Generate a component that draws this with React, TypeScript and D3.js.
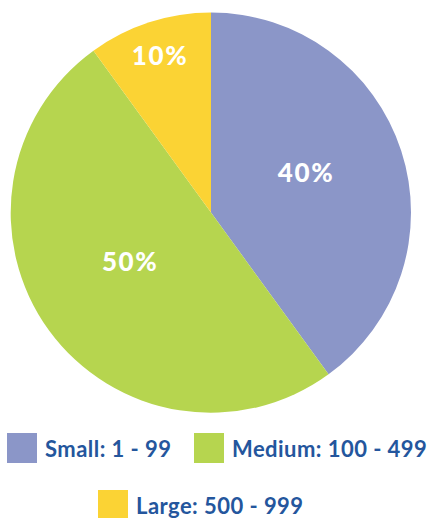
import React from "react";
import * as d3 from "d3";

const categories = ["Small: 1 - 99", "Medium: 100 - 499", "Large: 500 - 999"];
const values = [40, 50, 10];
const labels = ["40%", "50%", "10%"];
const colors = ["#8b96c8", "#b6d54f", "#fbd334"];

const W = 430;
const H = 518;
const cx = 211;
const cy = 212.5;
const R = 200;

export default function App() {
  const pie = d3.pie<number>().sort(null).value((d) => d);
  const arcs = pie(values);
  const arc = d3.arc<d3.PieArcDatum<number>>().innerRadius(0).outerRadius(R);
  const labelArcBig = d3.arc<d3.PieArcDatum<number>>().innerRadius(0).outerRadius(R * 1.0);
  const labelArcSmall = d3.arc<d3.PieArcDatum<number>>().innerRadius(R * 1.65).outerRadius(0);

  const font = "Lato, 'Open Sans', sans-serif";
  const textColor = "#24569d";

  const legendPos = [
    { x: 7, y: 433 },
    { x: 194, y: 433 },
    { x: 98, y: 490 },
  ];

  return (
    <svg
      width={W}
      height={H}
      style={{ position: "absolute", left: 0, top: 0, display: "block" }}
    >
      <rect width={W} height={H} fill="#ffffff" />
      <g transform={`translate(${cx},${cy})`}>
        {arcs.map((a, i) => (
          <path key={i} d={arc(a) || ""} fill={colors[i]} />
        ))}
        {arcs.map((a, i) => {
          const small = a.endAngle - a.startAngle < 1;
          const [x, y] = (small ? labelArcSmall : labelArcBig).centroid(a);
          return (
            <text
              key={"l" + i}
              x={x}
              y={small ? y + 9 : y}
              textAnchor="middle"
              fill="#ffffff"
              fontFamily={font}
              fontWeight={900}
              fontSize={26}
              letterSpacing={1.6}
            >
              {labels[i]}
            </text>
          );
        })}
      </g>
      {categories.map((c, i) => (
        <g key={"lg" + i} transform={`translate(${legendPos[i].x},${legendPos[i].y})`}>
          <rect width={30} height={30} fill={colors[i]} />
          <text
            x={38}
            y={24}
            fill={textColor}
            fontFamily={font}
            fontWeight={700}
            fontSize={22}
            letterSpacing={0.45}
          >
            {c}
          </text>
        </g>
      ))}
    </svg>
  );
}
